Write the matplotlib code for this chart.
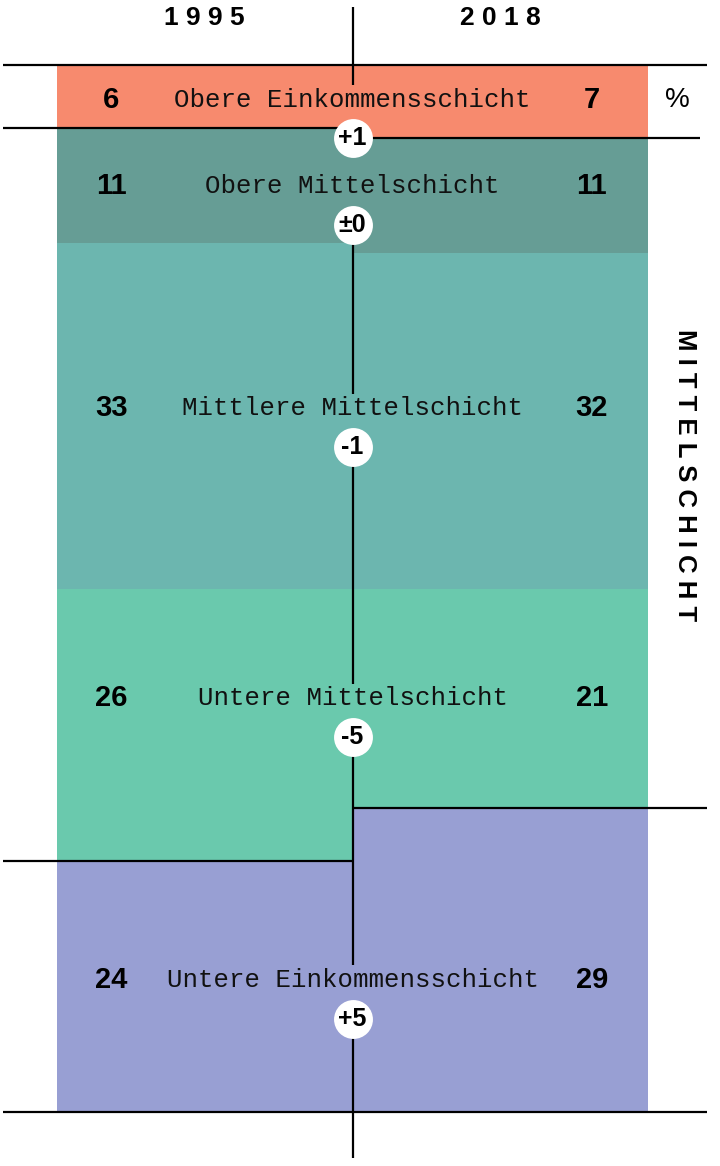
import matplotlib
matplotlib.use('Agg')
import matplotlib.pyplot as plt
import numpy as np

# Anteile der Einkommensschichten in %
classes = ['Obere Einkommensschicht', 'Obere Mittelschicht', 'Mittlere Mittelschicht',
           'Untere Mittelschicht', 'Untere Einkommensschicht']
years = ['1995', '2018']
share_1995 = [6, 11, 33, 26, 24]
share_2018 = [7, 11, 32, 21, 29]
colors = ['#F78A6E', '#669D95', '#6CB6AF', '#6AC9AD', '#989FD3']

# layout (y in % units, x in bar units)
label_y = [3.3, 11.6, 32.8, 60.5, 87.4]
circle_dy = 3.7
num_x = [0.183, 1.81]

NUM_FONT = ['Liberation Sans Narrow', 'Liberation Sans', 'DejaVu Sans']
MONO_FONT = ['Liberation Mono', 'DejaVu Sans Mono']
SANS = ['Liberation Sans', 'DejaVu Sans']

fig = plt.figure(figsize=(7.2, 11.66), dpi=100)
ax = fig.add_axes([0, 0, 1, 1])
ax.set_xlim(-57 / 295.5, (720 - 57) / 295.5)
ax.set_ylim((1166 - 65) / 10.47, -65 / 10.47)
ax.axis('off')

b95 = np.concatenate([[0], np.cumsum(share_1995)[:-1]])
b18 = np.concatenate([[0], np.cumsum(share_2018)[:-1]])
ax.bar(0, share_1995, bottom=b95, width=1, align='edge', color=colors, linewidth=0, zorder=1)
ax.bar(1, share_2018, bottom=b18, width=1, align='edge', color=colors, linewidth=0, zorder=1)

lw = 1.6
x_left, x_right = -0.183, 2.20
ax.hlines([0, 100], x_left, x_right, color='black', lw=lw, zorder=3)
# Grenzen der Mittelschicht
ax.hlines([b95[1], b95[-1]], x_left, 1, color='black', lw=lw, zorder=3)
ax.hlines(b18[1], 1, 2.176, color='black', lw=lw, zorder=3)
ax.hlines(b18[-1], 1, x_right, color='black', lw=lw, zorder=3)

# vertikale Mittellinie, unterbrochen bei Beschriftungen
circ_y = [y + circle_dy for y in label_y]
top, bottom = -5.55, 104.4
lab_half = 1.4
starts = [top] + circ_y
ends = [y - lab_half for y in label_y] + [bottom]
for s, e in zip(starts, ends):
    if e - s > 5:
        ax.vlines(1, s, e, color='black', lw=lw, zorder=2)

for i, name in enumerate(classes):
    ax.text(1, label_y[i], name, ha='center', va='center', fontsize=18.5,
            family=MONO_FONT, color='#111111', zorder=4)
    ax.text(num_x[0], label_y[i], str(share_1995[i]), ha='center', va='center',
            fontsize=21, fontweight='bold', family=NUM_FONT, zorder=4)
    ax.text(num_x[1], label_y[i], str(share_2018[i]), ha='center', va='center',
            fontsize=21, fontweight='bold', family=NUM_FONT, zorder=4)
    d = share_2018[i] - share_1995[i]
    lab = '±0' if d == 0 else f'{d:+d}'
    ax.plot(1, circ_y[i], 'o', ms=28, color='white', mec='none', zorder=5)
    ax.text(1, circ_y[i], lab, ha='center', va='center', fontsize=18,
            fontweight='bold', family=NUM_FONT, zorder=6)

for i, yr in enumerate(years):
    ax.text(0.5 + i, -4.5, ' '.join(yr), ha='center', va='center', fontsize=19,
            fontweight='bold', family=SANS)

ax.text(2.10, 3.3, '%', ha='center', va='center', fontsize=20, family=SANS)
ax.text(2.125, 39.2, ' '.join('MITTELSCHICHT'), ha='center', va='center',
        rotation=-90, fontsize=18.5, fontweight='bold', family=SANS)

fig.savefig('out.png', dpi=100)
